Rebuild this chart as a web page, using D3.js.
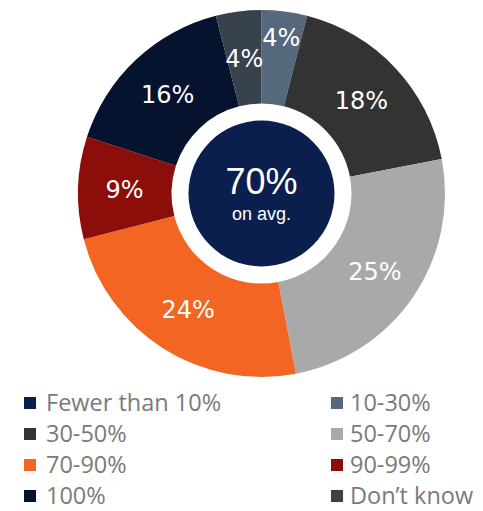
<!DOCTYPE html>
<html><head><meta charset="utf-8">
<script src="https://cdn.jsdelivr.net/npm/d3@7"></script>
<style>body{margin:0;background:#fff}svg{display:block}</style>
</head><body><svg id="c" width="483" height="511"></svg>
<script>
const categories = ["Fewer than 10%","10-30%","30-50%","50-70%","70-90%","90-99%","100%","Don\u2019t know"];
const values = [0,4,18,25,24,9,16,4];
const colors = ["#0a1f4e","#56687c","#333333","#a9a9a9","#f26522","#8b0e0b","#06132e","#37424d"];
const centerValue = "70%";
const centerLabel = "on avg.";

const svg = d3.select("#c");
const cx = 261.5, cy = 193.5, rOuter = 183.5, rInner = 90, rCenter = 73;
const g = svg.append("g").attr("transform",`translate(${cx},${cy})`);
const data = categories.map((c,i)=>({cat:c,value:values[i],color:colors[i],i}));
const pie = d3.pie().value(d=>d.value).sort(null);
const arcs = pie(data);
const arc = d3.arc().innerRadius(rInner).outerRadius(rOuter);
g.selectAll("path").data(arcs).join("path").attr("d",arc).attr("fill",d=>d.data.color);
g.append("circle").attr("r",rCenter).attr("fill",colors[0]);
g.append("text").attr("y",0).attr("text-anchor","middle").attr("fill","#fff")
 .style("font-family","Liberation Sans, Arial, sans-serif").style("font-size","36px").text(centerValue);
g.append("text").attr("y",26).attr("text-anchor","middle").attr("fill","#fff")
 .style("font-family","Liberation Sans, Arial, sans-serif").style("font-size","18px").text(centerLabel);
// labels
g.selectAll("text.lab").data(arcs.filter(d=>d.data.value>0)).join("text").attr("class","lab")
 .each(function(d){
   const r = d.data.i===1 ? 158 : 137;
   const a = (d.startAngle+d.endAngle)/2;
   d3.select(this).attr("x",r*Math.sin(a)).attr("y",-r*Math.cos(a)+9);
 })
 .attr("text-anchor","middle").attr("fill","#fff")
 .style("font-family","DejaVu Sans, Verdana, sans-serif").style("font-size","24px")
 .text(d=>d.data.value+"%");
// legend
const leg = svg.append("g");
const li = leg.selectAll("g").data(data).join("g")
 .attr("transform",(d,i)=>`translate(${i%2===0?24:331},${403+Math.floor(i/2)*31})`);
li.append("rect").attr("x",0).attr("y",-6).attr("width",12).attr("height",12).attr("fill",d=>d.color);
li.append("text").attr("x",d=>d.i%2===0?22:19).attr("y",8).attr("fill","#7a7a7a")
 .style("font-family","Open Sans, sans-serif").style("font-size","23.5px").text(d=>d.cat);
</script></body></html>
